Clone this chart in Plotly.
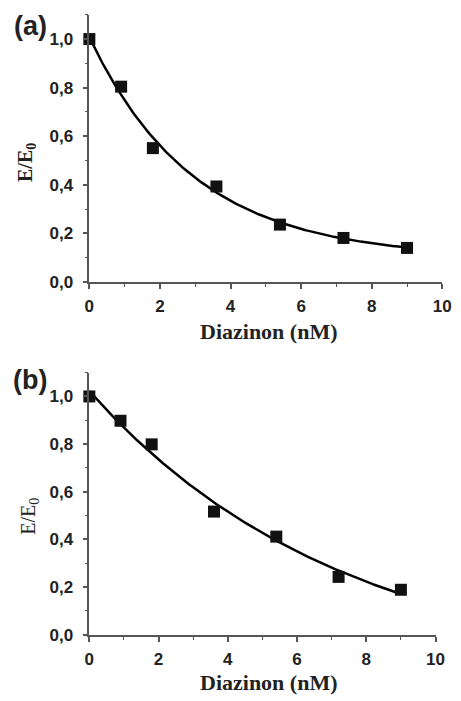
import numpy as np
import plotly.graph_objects as go

# Diazinon concentration (nM) and relative activity E/E0
conc = [0, 0.9, 1.8, 3.6, 5.4, 7.2, 9.0]
ratio_a = [1.00, 0.804, 0.551, 0.393, 0.236, 0.181, 0.140]
ratio_b = [1.00, 0.898, 0.799, 0.517, 0.412, 0.243, 0.189]

x_ticks = [0, 2, 4, 6, 8, 10]
x_labels = ["0", "2", "4", "6", "8", "10"]
y_ticks = [0.0, 0.2, 0.4, 0.6, 0.8, 1.0]
y_labels = ["0,0", "0,2", "0,4", "0,6", "0,8", "1,0"]

W, H = 461, 701


def exp_fit(x, y):
    """Least-squares fit of y = c + A*exp(-k x); returns a smooth curve."""
    x = np.asarray(x, float)
    y = np.asarray(y, float)
    best = None
    for k in np.linspace(0.01, 1.5, 1500):
        M = np.column_stack([np.ones_like(x), np.exp(-k * x)])
        coef, *_ = np.linalg.lstsq(M, y, rcond=None)
        err = np.sum((M @ coef - y) ** 2)
        if best is None or err < best[0]:
            best = (err, k, coef)
    _, k, (c, A) = best
    xs = np.linspace(x.min(), x.max(), 200)
    return xs, c + A * np.exp(-k * xs)


fig = go.Figure()

for idx, ratio in enumerate([ratio_a, ratio_b]):
    xa = "x" if idx == 0 else "x2"
    ya = "y" if idx == 0 else "y2"
    xs, ys = exp_fit(conc, ratio)
    fig.add_trace(go.Scatter(x=xs, y=ys, mode="lines",
                             line=dict(color="black", width=2.5),
                             xaxis=xa, yaxis=ya, showlegend=False,
                             cliponaxis=False))
    fig.add_trace(go.Scatter(x=conc, y=ratio, mode="markers",
                             marker=dict(symbol="square", size=12, color="#111111"),
                             xaxis=xa, yaxis=ya, showlegend=False,
                             cliponaxis=False))

tick_font = dict(family="Liberation Sans", size=17, color="#222222")
serif = "Liberation Serif"
axis_grey = "#555555"

xaxis_common = dict(
    range=[0, 10], tickvals=x_ticks, ticktext=[f"<b>{t}</b>" for t in x_labels],
    showline=True, linecolor=axis_grey, linewidth=1.5,
    ticks="outside", ticklen=5, tickwidth=1.5, tickcolor=axis_grey,
    minor=dict(ticks="outside", ticklen=3, dtick=1, tickcolor=axis_grey, tickwidth=1),
    showgrid=False, zeroline=False, tickfont=tick_font, ticklabelstandoff=3,
)
yaxis_common = dict(
    range=[0, 1.1], tickvals=y_ticks, ticktext=[f"<b>{t}</b>" for t in y_labels],
    showline=True, linecolor=axis_grey, linewidth=1.5,
    ticks="outside", ticklen=5, tickwidth=1.5, tickcolor=axis_grey,
    minor=dict(ticks="outside", ticklen=3, dtick=0.1, tickcolor=axis_grey, tickwidth=1),
    showgrid=False, zeroline=False, tickfont=tick_font, ticklabelstandoff=6,
)


def label(text, px, py, size, family, angle=0):
    return dict(text=text, x=px / W, y=1 - py / H, xref="paper", yref="paper",
                xanchor="center", yanchor="middle", showarrow=False,
                textangle=angle, font=dict(family=family, size=size, color="#222222"))


fig.update_layout(
    width=W, height=H,
    margin=dict(l=0, r=0, t=0, b=0),
    paper_bgcolor="white", plot_bgcolor="white",
    xaxis=dict(domain=[87 / W, 451 / W], anchor="y", **xaxis_common),
    yaxis=dict(domain=[1 - 286 / H, 1 - 15 / H], anchor="x", **yaxis_common),
    xaxis2=dict(domain=[87 / W, 444 / W], anchor="y2", **xaxis_common),
    yaxis2=dict(domain=[1 - 644 / H, 1 - 378 / H], anchor="x2", **yaxis_common),
    annotations=[
        label("<b>(a)</b>", 26, 26, 27, "Liberation Sans"),
        label("<b>(b)</b>", 26, 386, 27, "Liberation Sans"),
        label("<b>Diazinon (nM)</b>", 272, 336, 22, serif),
        label("<b>Diazinon (nM)</b>", 272, 692, 22, serif),
        label("<b>E/E<sub>0</sub></b>", 22, 165, 20, serif, -90),
        label("E/E<sub>0</sub>", 25, 524, 20, serif, -90),
    ],
)

fig.write_html("out.html")
